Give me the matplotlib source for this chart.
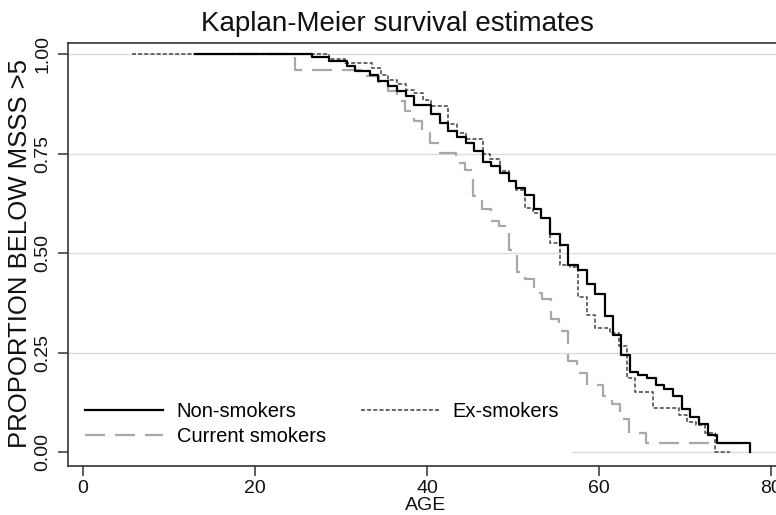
import matplotlib
matplotlib.use("Agg")
import matplotlib.pyplot as plt
from matplotlib.patches import Rectangle

"""
Kaplan-Meier survival estimates by smoking status
(proportion below MSSS > 5 by age), redrawn in matplotlib.
"""

plt.rcParams['font.family'] = ['Liberation Sans', 'DejaVu Sans']

# step curves: age at each step, survival after the step
non_t = [13, 26.6, 28.6, 30.7, 31.6, 33.4, 34.3, 35.5, 36.5, 37.6,
         38.5, 40.5, 41.5, 42.4, 43.5, 44.5, 45.5, 46.5, 47.5, 48.5,
         49.5, 50.4, 51.4, 52.4, 53.3, 54.3, 55.5, 56.4, 57.6, 58.6,
         59.5, 60.7, 61.6, 62.6, 63.6, 64.6, 65.6, 66.6, 67.6, 68.6,
         69.7, 70.6, 71.7, 72.7, 73.7, 77.6]
non_s = [1.0, 0.992, 0.983, 0.970, 0.957, 0.949, 0.932, 0.919, 0.907, 0.894,
         0.872, 0.849, 0.826, 0.806, 0.793, 0.778, 0.756, 0.730, 0.719, 0.702,
         0.681, 0.664, 0.647, 0.610, 0.589, 0.547, 0.521, 0.471, 0.458, 0.423,
         0.398, 0.343, 0.295, 0.244, 0.202, 0.194, 0.185, 0.168, 0.159, 0.142,
         0.108, 0.087, 0.071, 0.044, 0.023, 0.0]

ex_t = [5.7, 28.6, 30.5, 33.6, 34.7, 35.5, 36.5, 37.6, 38.5, 39.5,
        40.5, 42.5, 43.5, 44.5, 46.5, 47.3, 48.5, 49.5, 50.4, 51.4,
        52.3, 53.3, 54.3, 55.5, 56.6, 57.6, 58.6, 59.5, 61.3, 62.3,
        63.3, 64.2, 66.3, 69.3, 70.3, 71.3, 72.3, 73.5, 75.2]
ex_s = [1.0, 0.987, 0.977, 0.966, 0.949, 0.936, 0.924, 0.911, 0.903, 0.885,
        0.870, 0.824, 0.803, 0.788, 0.748, 0.736, 0.706, 0.681, 0.660, 0.614,
        0.600, 0.589, 0.526, 0.471, 0.466, 0.391, 0.345, 0.312, 0.300, 0.267,
        0.186, 0.152, 0.110, 0.093, 0.076, 0.068, 0.047, 0.0, 0.0]

cur_t = [18, 24.7, 32.8, 34.4, 35.5, 36.5, 37.5, 38.5, 39.4, 40.4,
         41.5, 43.4, 44.4, 45.4, 46.4, 47.4, 48.4, 49.5, 50.5, 51.4,
         52.4, 53.4, 54.4, 55.4, 56.4, 57.4, 58.6, 60.5, 61.5, 62.5,
         63.5, 65.5, 76.9]
cur_s = [1.0, 0.960, 0.945, 0.928, 0.907, 0.882, 0.858, 0.832, 0.803, 0.778,
         0.753, 0.727, 0.710, 0.643, 0.610, 0.580, 0.568, 0.509, 0.453, 0.436,
         0.401, 0.385, 0.334, 0.305, 0.229, 0.199, 0.168, 0.142, 0.121, 0.083,
         0.048, 0.023, 0.023]

x_ticks = [0, 20, 40, 60, 80]
y_ticks = [0.0, 0.25, 0.5, 0.75, 1.0]
y_labels = ['0.00', '0.25', '0.50', '0.75', '1.00']

fig = plt.figure(figsize=(7.76, 5.15), dpi=100)
ax = fig.add_axes([68 / 776, 1 - 466 / 515, 708 / 776, (466 - 42.7) / 515])

l_non, = ax.step(non_t, non_s, where='post', color='black', lw=1.6,
                 label='Non-smokers', zorder=3)
l_ex, = ax.step(ex_t, ex_s, where='post', color='#505050', lw=1.2,
                linestyle=(0, (2.4, 1.3)), label='Ex-smokers', zorder=2.5)
l_cur, = ax.step(cur_t, cur_s, where='post', color='#a8a8a8', lw=1.6,
                 linestyle=(0, (9, 4.5)), label='Current smokers', zorder=2)

ax.set_xlim(-1.75, 80.6)
ax.set_ylim(-0.035, 1.029)
ax.set_xticks(x_ticks)
ax.set_yticks(y_ticks)
ax.set_yticklabels(y_labels, rotation=90, va='center')

ax.set_axisbelow(True)
ax.grid(axis='y', color='#dcdcdc', lw=1.0)
ax.grid(axis='x', visible=False)

for side in ['left', 'bottom', 'top']:
    ax.spines[side].set_color('#333333')
    ax.spines[side].set_linewidth(1.2)
ax.spines['right'].set_visible(False)

ax.tick_params(axis='both', direction='out', length=7, width=1.1,
               color='#333333', labelsize=14, labelcolor='#111111')
ax.tick_params(axis='x', pad=3)
ax.tick_params(axis='y', pad=5)

# legend sits on a white box that hides the gridline underneath it
ax.add_patch(Rectangle((0, 0), 0.712, 0.168, transform=ax.transAxes,
                       facecolor='white', edgecolor='none', zorder=1))

ax.legend(handles=[l_non, l_cur, l_ex], ncol=2, frameon=False,
          loc='upper left', bbox_to_anchor=(85 / 776, 1 - 402 / 515),
          bbox_transform=fig.transFigure, borderpad=0, borderaxespad=0,
          fontsize=14.5, handlelength=3.85, handletextpad=0.7,
          columnspacing=1.75, labelspacing=0.3)

fig.text(397 / 776, 1 - 24 / 515, 'Kaplan-Meier survival estimates',
         ha='center', va='center', fontsize=20, color='#111111')
fig.text(20 / 776, 1 - 254 / 515, 'PROPORTION BELOW MSSS >5',
         rotation=90, ha='center', va='center', fontsize=18.5, color='#111111')
fig.text(426 / 776, 1 - 506 / 515, 'AGE',
         ha='center', va='center', fontsize=14, color='#111111')

fig.savefig('out.png', dpi=100)
